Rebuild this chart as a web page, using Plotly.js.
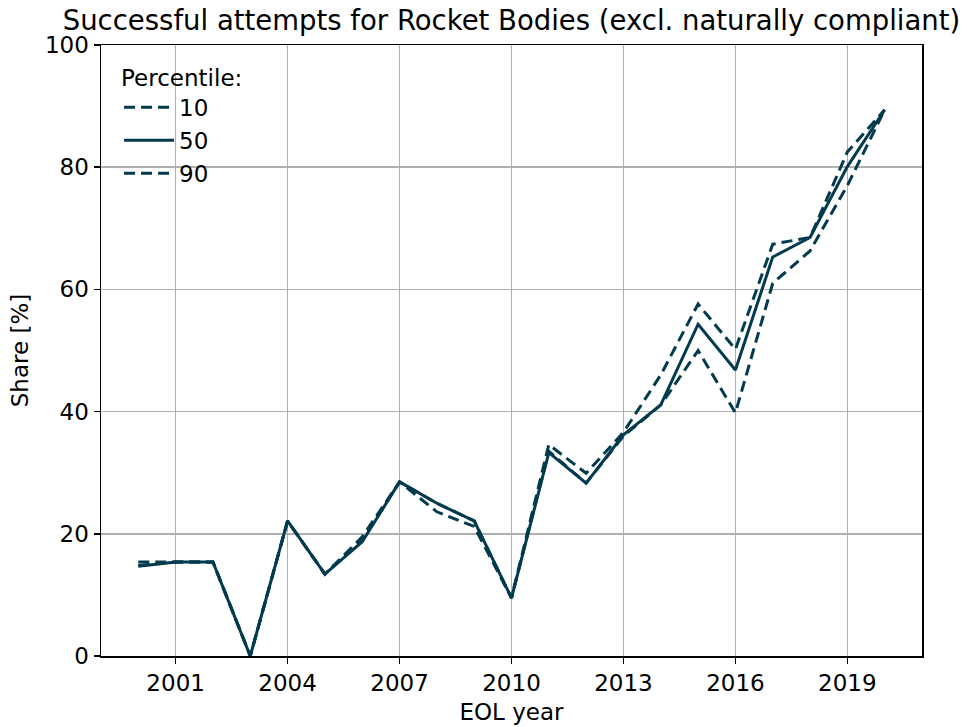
<!DOCTYPE html>
<html>
<head>
<meta charset="utf-8">
<script src="https://cdn.plot.ly/plotly-3.0.1.min.js"></script>
<style>html,body{margin:0;padding:0;background:#fff;}#chart{width:967px;height:727px;}</style>
</head>
<body>
<div id="chart"></div>
<script>
const years = [2000,2001,2002,2003,2004,2005,2006,2007,2008,2009,2010,2011,2012,2013,2014,2015,2016,2017,2018,2019,2020];
const p10 = [14.8,15.4,15.4,0,22.1,13.4,18.9,28.5,23.6,21.2,9.5,33.5,28.3,36.0,41.1,50.0,39.8,61.0,66.3,77.0,89.4];
const p50 = [14.7,15.4,15.4,0,22.1,13.4,18.7,28.5,25.0,22.1,9.5,33.3,28.3,36.2,41.1,54.3,46.8,65.3,68.5,80.1,89.4];
const p90 = [15.4,15.4,15.4,0,22.1,13.4,19.5,28.5,25.0,22.1,9.5,34.6,29.9,36.6,46.0,57.6,50.2,67.4,68.5,82.5,89.4];
const labels = ['10','50','90'];
const xTicks = [2001,2004,2007,2010,2013,2016,2019];

const color = '#023a4e';
const font = "'DejaVu Sans', Verdana, sans-serif";
const series = [p10, p50, p90];
const dashes = ['11px,6px', 'solid', '11px,6px'];
const traces = series.map((s, i) => ({
  x: years, y: s, type: 'scatter', mode: 'lines', name: labels[i],
  line: {color: color, width: 3, dash: dashes[i]}
}));

const layout = {
  width: 967, height: 727,
  margin: {l: 101, r: 45, t: 45, b: 71},
  paper_bgcolor: '#fff', plot_bgcolor: '#fff',
  font: {family: font, color: '#000', size: 23},
  title: {text: 'Successful attempts for Rocket Bodies (excl. naturally compliant)',
    font: {family: font, size: 27.5, color: '#000'}, x: 0.5, xref: 'paper', xanchor: 'center', y: 0.972, yanchor: 'middle'},
  xaxis: {
    range: [1999, 2021], tickmode: 'array', tickvals: xTicks, ticktext: xTicks.map(String),
    showgrid: true, gridcolor: '#b0b0b0', gridwidth: 1.6, zeroline: false,
    showline: true, linecolor: '#000', linewidth: 1.5, mirror: true,
    ticks: 'outside', ticklen: 6, tickwidth: 1.5, tickcolor: '#000',
    tickfont: {family: font, size: 23},
    title: {text: 'EOL year', font: {family: font, size: 23}, standoff: 9}
  },
  yaxis: {
    range: [0, 100], tickvals: [0,20,40,60,80,100],
    showgrid: true, gridcolor: '#b0b0b0', gridwidth: 1.6, zeroline: false,
    showline: true, linecolor: '#000', linewidth: 1.5, mirror: true,
    ticks: 'outside', ticklen: 6, tickwidth: 1.5, tickcolor: '#000',
    tickfont: {family: font, size: 23},
    title: {text: 'Share [%]', font: {family: font, size: 23}, standoff: 10}
  },
  showlegend: true,
  legend: {
    x: 0.022, y: 0.982, xanchor: 'left', yanchor: 'top',
    bgcolor: 'rgba(0,0,0,0)', borderwidth: 0,
    font: {family: font, size: 23},
    title: {text: 'Percentile:', font: {family: font, size: 23}},
    itemwidth: 50
  }
};

Plotly.newPlot('chart', traces, layout, {displayModeBar: false, staticPlot: true});
</script>
</body>
</html>
